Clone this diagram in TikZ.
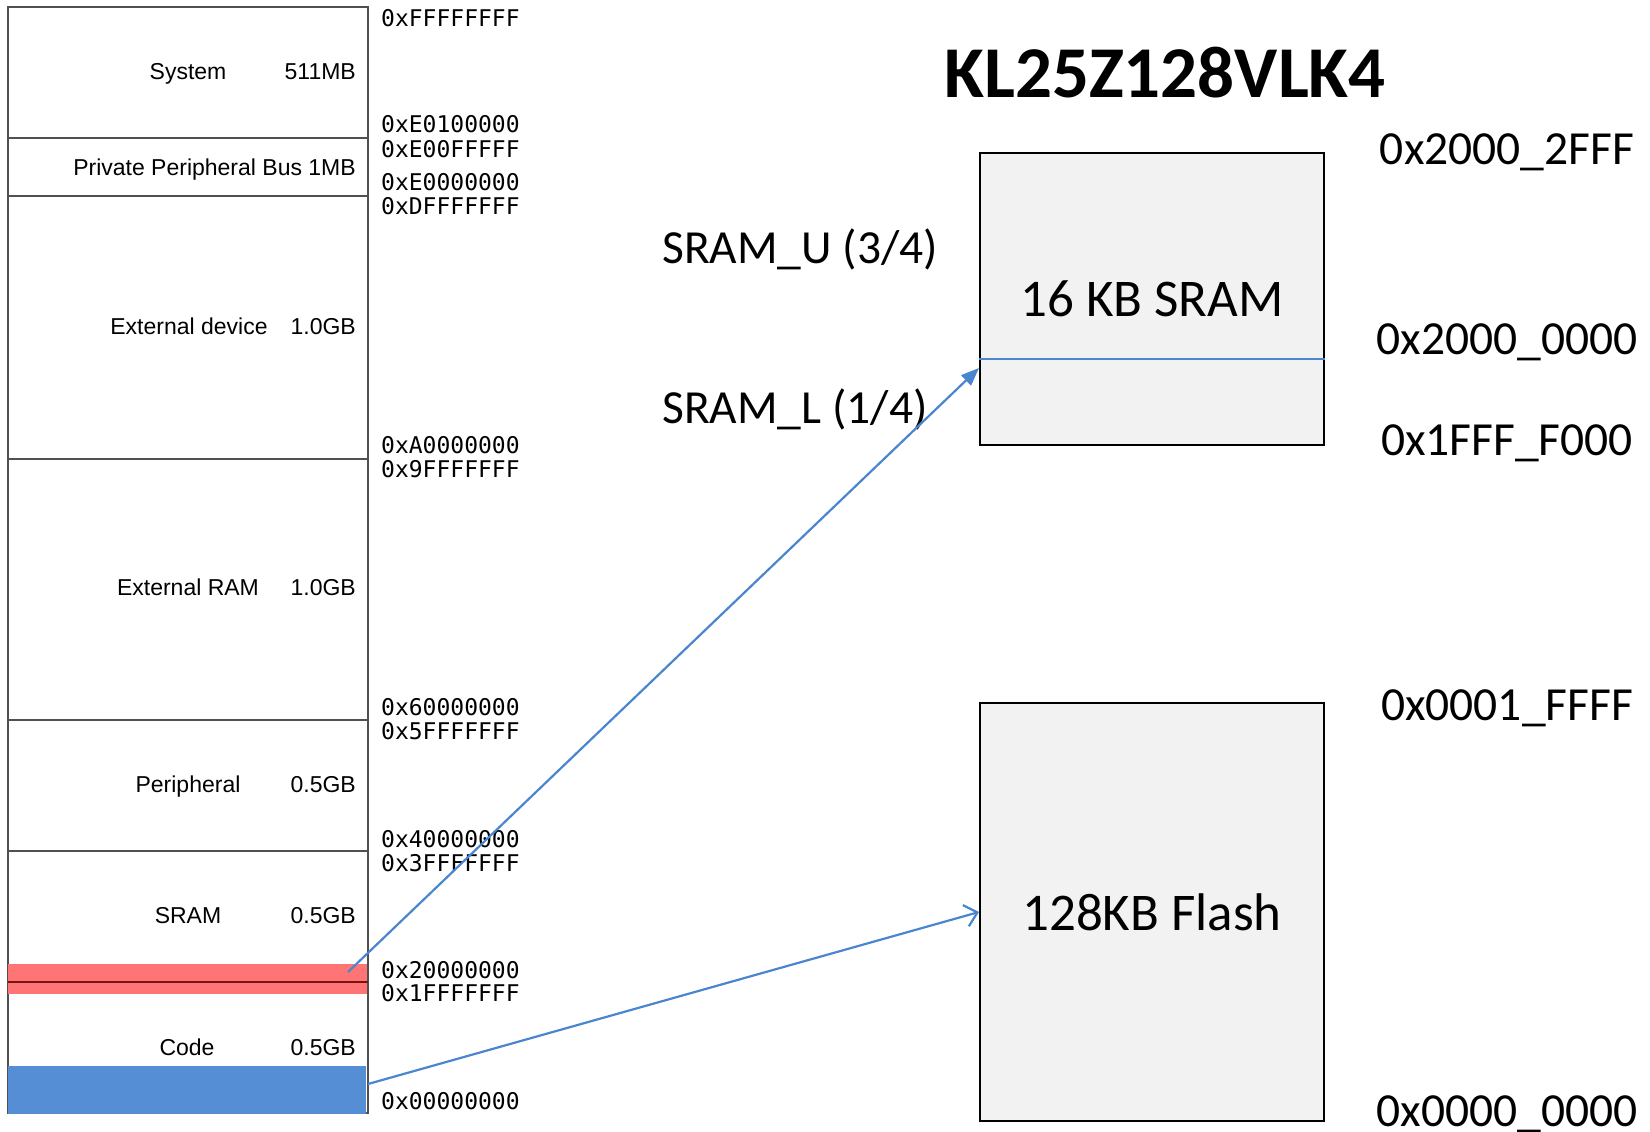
\documentclass[tikz,border=0pt]{standalone}
\usepackage{fontspec}
\setmainfont{Carlito}
\newfontfamily\armfont{Liberation Sans}
\newfontfamily\addrfont{DejaVu Sans Mono}
\usepackage{xcolor}
\usepackage{tikz}
\usetikzlibrary{arrows.meta}
\definecolor{bandred}{RGB}{255,117,117}
\definecolor{bandblue}{RGB}{85,142,213}
\definecolor{linkblue}{RGB}{74,134,207}
\definecolor{boxgray}{RGB}{242,242,242}
\definecolor{framegray}{RGB}{80,80,80}
\definecolor{splitred}{RGB}{120,20,20}
\tikzstyle{frame} = [draw=framegray, line width=1.5pt]
\tikzstyle{mem} = [font=\armfont\fontsize{23}{27}\selectfont, inner sep=0pt, anchor=base]
\tikzstyle{memsize} = [mem, anchor=base east]
\tikzstyle{addr} = [font=\addrfont\fontsize{23}{27}\selectfont, inner sep=0pt, anchor=base west]
\tikzstyle{chip} = [rectangle, minimum width=344pt, fill=boxgray, draw=black, line width=2pt, font=\fontsize{53}{64}\selectfont, inner sep=0pt]
\tikzstyle{side} = [font=\fontsize{47.5}{56}\selectfont, inner sep=0pt, anchor=base]
\tikzstyle{link} = [draw=linkblue, line width=2.2pt]

\begin{document}
\begin{tikzpicture}[x=1pt, y=-1pt]
		\useasboundingbox (0,0) rectangle (1650,1132);
		\draw[frame] (8,7) rectangle (368,1113);
		\foreach \y in {138,196,459,720,851} \draw[frame] (8,\y) -- (368,\y);
		\fill[bandred] (8,964) rectangle (367,994);
		\draw[splitred, line width=1.5pt] (8,982) -- (368,982);
		\fill[bandblue] (8,1066) rectangle (366,1114);
		\node (System)[mem] at (188,80) {System};
		\node (System Size)[memsize] at (356,80) {511MB};
		\node (PPB)[memsize] at (356,175) {Private Peripheral Bus 1MB};
		\node (External Device)[mem] at (189,334) {External device};
		\node (External Device Size)[memsize] at (356,334) {1.0GB};
		\node (External RAM)[mem] at (188,595) {External RAM};
		\node (External RAM Size)[memsize] at (356,595) {1.0GB};
		\node (Peripheral)[mem] at (188,792) {Peripheral};
		\node (Peripheral Size)[memsize] at (356,792) {0.5GB};
		\node (SRAM Region)[mem] at (188,923) {SRAM};
		\node (SRAM Region Size)[memsize] at (356,923) {0.5GB};
		\node (Code)[mem] at (187,1055) {Code};
		\node (Code Size)[memsize] at (356,1055) {0.5GB};
		\foreach \y/\a in {27/FFFFFFFF, 132/E0100000, 157/E00FFFFF, 190/E0000000, 214/DFFFFFFF, 453/A0000000, 477/9FFFFFFF, 715/60000000, 739/5FFFFFFF, 847/40000000, 871/3FFFFFFF, 978/20000000, 1001/1FFFFFFF, 1109/00000000}
			\node (Addr \y)[addr] at (381,\y) {0x\a};
		\node (Title)[font=\bfseries\fontsize{73}{88}\selectfont, inner sep=0pt, anchor=base] at (1165,97) {KL25Z128VLK4};
		\node (SRAM)[chip, minimum height=292pt] at (1152,299) {16 KB SRAM};
		\node (Flash)[chip, minimum height=418pt] at (1152,912) {128KB Flash};
		\draw[link, line width=2pt] (SRAM.west |- 0,359) -- (SRAM.east |- 0,359);
		\node (SRAM Top)[side] at (1507,164) {0x2000\_2FFF};
		\node (SRAM Mid)[side] at (1507,354) {0x2000\_0000};
		\node (SRAM Bottom)[side] at (1507,455) {0x1FFF\_F000};
		\node (Flash Top)[side] at (1507,720) {0x0001\_FFFF};
		\node (Flash Bottom)[side] at (1507,1126) {0x0000\_0000};
		\node (SRAM U)[side, anchor=base west] at (662,263) {SRAM\_U (3/4)};
		\node (SRAM L)[side, anchor=base west] at (662,423) {SRAM\_L (1/4)};
		\coordinate (SRAM Src) at (348,972);
		\coordinate (SRAM Hit) at (SRAM.west |- 0,368);
		\coordinate (Flash Src) at (368,1084);
		\draw [link, -{Triangle[length=18pt,width=14pt]}] (SRAM Src) -- (SRAM Hit);
		\draw [link, -{Straight Barb[length=12pt,width=22pt]}] (Flash Src) -- (Flash.west);
	\end{tikzpicture}
\end{document}
